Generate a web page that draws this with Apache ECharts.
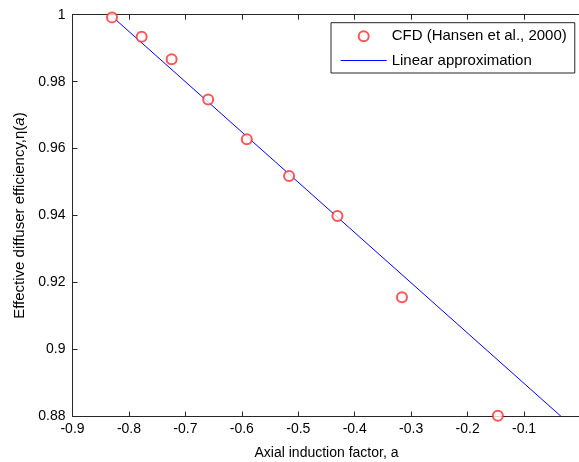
<!DOCTYPE html>
<html>
<head>
<meta charset="utf-8">
<script src="https://cdn.jsdelivr.net/npm/echarts@6/dist/echarts.min.js"></script>
<style>html,body{margin:0;padding:0;background:#fff}#c{width:579px;height:462px}</style>
</head>
<body>
<div id="c"></div>
<script>
// CFD data (Hansen et al., 2000)
const cfdA = [-0.830, -0.7775, -0.7244, -0.6596, -0.5912, -0.5163, -0.4306, -0.3163, -0.1464];
const cfdEta = [0.9992, 0.9934, 0.9867, 0.9747, 0.9628, 0.9518, 0.9399, 0.9156, 0.8802];
// Linear approximation end points
const linA = [-0.828, -0.0342];
const linEta = [0.9992, 0.880];
const xTicks = [-0.9, -0.8, -0.7, -0.6, -0.5, -0.4, -0.3, -0.2, -0.1];
const yTicks = [0.88, 0.9, 0.92, 0.94, 0.96, 0.98, 1];

const FONT = '"Liberation Sans", Arial, Helvetica, sans-serif';
const AX = '#262626';
const chart = echarts.init(document.getElementById('c'), null, {renderer: 'canvas'});
const axisCommon = {
  axisLine: {show: true, onZero: false, lineStyle: {color: AX, width: 1}},
  axisTick: {show: true, inside: true, length: 5, lineStyle: {color: AX}},
  splitLine: {show: false}
};
chart.setOption({
  animation: false,
  backgroundColor: '#fff',
  grid: {left: 72.5, top: 14.7, right: -1.5, bottom: 45.5, show: false,
         containLabel: false, outerBoundsMode: 'none'},
  legend: {
    left: 331, top: 22.7,
    orient: 'vertical',
    backgroundColor: '#fff',
    borderColor: AX, borderWidth: 1,
    padding: [6, 8, 5, 9.7],
    itemWidth: 46, itemHeight: 10, itemGap: 9.3,
    symbolKeepAspect: true,
    textStyle: {fontFamily: FONT, fontSize: 15, color: '#000', padding: [0, 0, 0, 0]},
    data: [{name: 'CFD (Hansen et al., 2000)'},
           {name: 'Linear approximation', icon: 'path://M0,0L46,0L46,1L0,1Z'}]
  },
  xAxis: [Object.assign({
    type: 'value', min: -0.9, max: 0, interval: 0.1,
    name: 'Axial induction factor, a', nameLocation: 'middle', nameGap: 30,
    nameTextStyle: {fontFamily: FONT, fontSize: 14, color: '#000'},
    axisLabel: {fontFamily: FONT, fontSize: 14, color: '#000', margin: 6,
      formatter: v => xTicks.some(t => Math.abs(t - v) < 1e-9) ? String(Math.round(v * 10) / 10) : ''}
  }, axisCommon), Object.assign({
    type: 'value', min: -0.9, max: 0, interval: 0.1, position: 'top',
    axisLabel: {show: false}
  }, axisCommon)],
  yAxis: [Object.assign({
    type: 'value', min: 0.88, max: 1, interval: 0.02,
    name: '{n|Effective diffuser efficiency,η(}{i|a}{n|)}', nameLocation: 'middle', nameGap: 45,
    nameTextStyle: {fontFamily: FONT, fontSize: 15, color: '#000',
      rich: {n: {fontFamily: FONT, fontSize: 15, color: '#000'}, i: {fontFamily: FONT, fontSize: 15, color: '#000', fontStyle: 'italic'}}},
    axisLabel: {fontFamily: FONT, fontSize: 14, color: '#000', margin: 7,
      formatter: v => {const t = yTicks.find(t => Math.abs(t - v) < 1e-9); return t === undefined ? '' : String(t);}}
  }, axisCommon)],
  series: [
    {
      name: 'CFD (Hansen et al., 2000)', type: 'scatter',
      symbol: 'emptyCircle', symbolSize: 10,
      itemStyle: {color: '#ff2a2a', borderColor: '#ff2a2a', borderWidth: 0.9},
      data: cfdA.map((a, i) => [a, cfdEta[i]]), z: 3
    },
    {
      name: 'Linear approximation', type: 'line', symbol: 'none',
      lineStyle: {color: '#0000ff', width: 1},
      itemStyle: {color: '#0000ff'},
      data: linA.map((a, i) => [a, linEta[i]]), z: 2
    }
  ]
});
</script>
</body>
</html>
